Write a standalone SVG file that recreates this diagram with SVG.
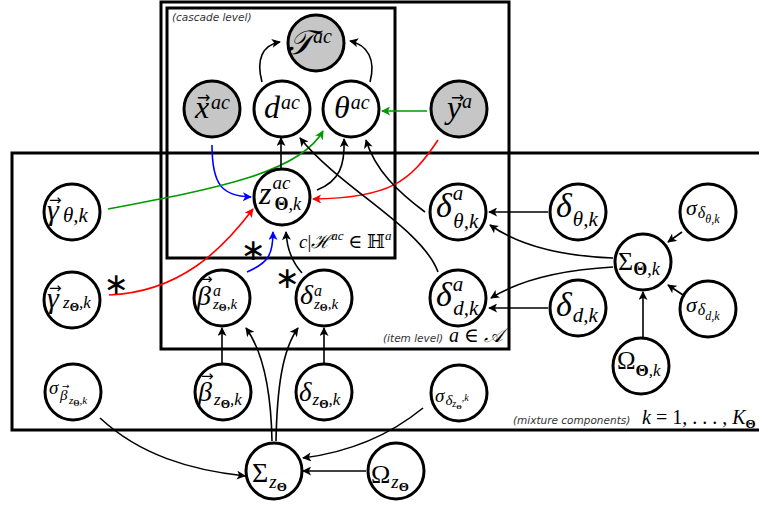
<svg xmlns="http://www.w3.org/2000/svg" width="759" height="508" viewBox="0 0 759 508">
<style>
.box{fill:none;stroke:#000;stroke-width:3}
.n{fill:#fff;stroke:#000;stroke-width:3}
.g{fill:#c6c6c6}
.t{font-family:"Liberation Serif","DejaVu Serif",serif;font-style:italic;fill:#000}
.r{font-style:normal}
.bf{font-weight:bold;font-style:normal}
.v{font-family:"DejaVu Sans",sans-serif;font-style:normal}
.s{font-family:"DejaVu Sans","Liberation Sans",sans-serif;font-style:italic;font-size:10.5px;fill:#333}
.ast{font-family:"DejaVu Sans",sans-serif;font-size:30px;text-anchor:middle;fill:#000}
.c{fill:none;stroke-width:1.6}
.k{stroke:#000}
.bl{stroke:#0000ff}
.rd{stroke:#ff0000}
.gr{stroke:#009900}
</style>
<defs>
<marker id="ak" viewBox="0 0 10 10" refX="9" refY="5" markerWidth="10" markerHeight="9" orient="auto" markerUnits="userSpaceOnUse"><path d="M0,0 L10,5 L0,10 L2.5,5 z" fill="#000"/></marker>
<marker id="ab" viewBox="0 0 10 10" refX="9" refY="5" markerWidth="10" markerHeight="9" orient="auto" markerUnits="userSpaceOnUse"><path d="M0,0 L10,5 L0,10 L2.5,5 z" fill="#0000ff"/></marker>
<marker id="ar" viewBox="0 0 10 10" refX="9" refY="5" markerWidth="10" markerHeight="9" orient="auto" markerUnits="userSpaceOnUse"><path d="M0,0 L10,5 L0,10 L2.5,5 z" fill="#ff0000"/></marker>
<marker id="ag" viewBox="0 0 10 10" refX="9" refY="5" markerWidth="10" markerHeight="9" orient="auto" markerUnits="userSpaceOnUse"><path d="M0,0 L10,5 L0,10 L2.5,5 z" fill="#009900"/></marker>
</defs>
<rect width="759" height="508" fill="#fff"/>

<g id="plates">
<rect class="box" x="12" y="153" width="760" height="277"/>
<rect class="box" x="161" y="2" width="348" height="347"/>
<rect class="box" x="167" y="8" width="228" height="250"/>
<text class="s" x="172" y="21">(cascade level)</text>
<text class="t" x="299" y="248" font-size="19">c<tspan class="r">|</tspan>ℋ<tspan dy="-8" font-size="13">ac</tspan><tspan dy="8" class="r"> ∈ ℍ</tspan><tspan dy="-8" font-size="13">a</tspan></text>
<text class="s" x="383" y="342">(item level)</text>
<text class="t" x="449" y="342" font-size="20">a <tspan class="r">∈</tspan> 𝒜</text>
<text class="s" x="513" y="424">(mixture components)</text>
<text class="t" x="642" y="424" font-size="20">k <tspan class="r">= 1, . . . ,</tspan> K<tspan class="bf" font-size="13" dy="4">Θ</tspan></text>
<text class="ast" x="116" y="294">∗</text>
<text class="ast" x="253" y="260">∗</text>
<text class="ast" x="287" y="288">∗</text>
</g>

<g id="connectors">
<path class="c k" d="M262,82 C256,60 262,45 280,42" marker-end="url(#ak)"/>
<path class="c k" d="M370,82 C376,60 368,45 350,41" marker-end="url(#ak)"/>
<path class="c gr" d="M427,111 L382,111" marker-end="url(#ag)"/>
<path class="c bl" d="M212,145 C212,185 222,196 251,197" marker-end="url(#ab)"/>
<path class="c gr" d="M108,209 C220,188 300,172 323,131" marker-end="url(#ag)"/>
<path class="c rd" d="M109,295 C180,292 222,250 253,209" marker-end="url(#ar)"/>
<path class="c rd" d="M438,140 C410,182 390,198 313,199" marker-end="url(#ar)"/>
<path class="c bl" d="M247,272 C268,263 273,255 273,232" marker-end="url(#ab)"/>
<path class="c k" d="M302,273 C292,262 287,250 286,232" marker-end="url(#ak)"/>
<path class="c k" d="M281,168 L281,138" marker-end="url(#ak)"/>
<path class="c k" d="M317,190 C340,181 345,165 344,139" marker-end="url(#ak)"/>
<path class="c k" d="M425,212 C398,192 375,170 366,140" marker-end="url(#ak)"/>
<path class="c k" d="M438,272 C422,228 340,188 300,138" marker-end="url(#ak)"/>
<path class="c k" d="M548,212 L489,212" marker-end="url(#ak)"/>
<path class="c k" d="M548,308 L489,308" marker-end="url(#ak)"/>
<path class="c k" d="M613,258 C560,256 520,246 490,225" marker-end="url(#ak)"/>
<path class="c k" d="M613,267 C560,270 520,280 491,298" marker-end="url(#ak)"/>
<path class="c k" d="M682,232 L668,242" marker-end="url(#ak)"/>
<path class="c k" d="M683,295 L668,285" marker-end="url(#ak)"/>
<path class="c k" d="M643,338 L643,292" marker-end="url(#ak)"/>
<path class="c k" d="M222,364 L222,328" marker-end="url(#ak)"/>
<path class="c k" d="M324,364 L324,328" marker-end="url(#ak)"/>
<path class="c k" d="M272,441 C271,390 262,350 246,328" marker-end="url(#ak)"/>
<path class="c k" d="M276,441 C277,390 282,350 298,328" marker-end="url(#ak)"/>
<path class="c k" d="M100,418 C140,455 190,470 245,476" marker-end="url(#ak)"/>
<path class="c k" d="M423,408 C390,435 350,452 303,458" marker-end="url(#ak)"/>
<path class="c k" d="M366,471 L303,471" marker-end="url(#ak)"/>
</g>

<g id="T_ac"><circle class="n g" cx="316" cy="43" r="28"/><text class="t" x="287" y="54"><tspan font-size="34">𝒯</tspan><tspan font-size="20" dy="-11">ac</tspan></text></g>
<g id="x_ac"><circle class="n g" cx="212" cy="109" r="28"/><text class="t"><tspan x="195" y="118" font-size="32">x</tspan><tspan class="v" x="197" y="103" font-size="16">→</tspan><tspan x="211" y="109" font-size="20">ac</tspan></text></g>
<g id="d_ac"><circle class="n" cx="282" cy="109" r="28"/><text class="t" x="264" y="118"><tspan font-size="32">d</tspan><tspan font-size="20" dx="1" dy="-9">ac</tspan></text></g>
<g id="theta_ac"><circle class="n" cx="351" cy="109" r="28"/><text class="t" x="334" y="118"><tspan font-size="32">θ</tspan><tspan font-size="20" dx="1" dy="-9">ac</tspan></text></g>
<g id="y_a"><circle class="n g" cx="459" cy="109" r="28"/><text class="t"><tspan x="447" y="118" font-size="32">y</tspan><tspan class="v" x="451" y="103" font-size="16">→</tspan><tspan x="462" y="108" font-size="20">a</tspan></text></g>
<g id="z_ac"><circle class="n" cx="282" cy="197" r="28"/><text class="t" x="259" y="204"><tspan font-size="32">z</tspan><tspan font-size="19" dx="1" dy="-15">ac</tspan><tspan class="bf" font-size="18" dx="-16" dy="21">Θ</tspan><tspan font-size="18">,k</tspan></text></g>
<g id="gamma_theta"><circle class="n" cx="72" cy="212" r="28"/><text class="t"><tspan x="47" y="220" font-size="30">γ</tspan><tspan class="v" x="49" y="205" font-size="15">→</tspan><tspan x="63" y="222" font-size="21">θ,k</tspan></text></g>
<g id="gamma_z"><circle class="n" cx="72" cy="300" r="28"/><text class="t"><tspan x="47" y="308" font-size="30">γ</tspan><tspan class="v" x="49" y="293" font-size="15">→</tspan><tspan x="63" y="308" font-size="17">z</tspan><tspan class="bf" font-size="12" dy="3">Θ</tspan><tspan font-size="17" dy="-3">,k</tspan></text></g>
<g id="beta_a_z"><circle class="n" cx="222" cy="298" r="28"/><text class="t"><tspan x="197" y="305" font-size="28">β</tspan><tspan class="v" x="200" y="284" font-size="15">→</tspan><tspan x="213" y="296" font-size="16">a</tspan><tspan x="213" y="309" font-size="15">z</tspan><tspan class="bf" font-size="10" dy="2">Θ</tspan><tspan font-size="15" dy="-2">,k</tspan></text></g>
<g id="delta_a_z"><circle class="n" cx="324" cy="298" r="28"/><text class="t" x="300" y="304"><tspan font-size="28">δ</tspan><tspan font-size="16" dx="1" dy="-8">a</tspan><tspan font-size="15" dx="-8" dy="13">z</tspan><tspan class="bf" font-size="10" dy="2">Θ</tspan><tspan font-size="15" dy="-2">,k</tspan></text></g>
<g id="delta_a_theta"><circle class="n" cx="458" cy="212" r="28"/><text class="t" x="436" y="217"><tspan font-size="34">δ</tspan><tspan font-size="21" dx="1" dy="-17">a</tspan><tspan font-size="21" dx="-10" dy="28">θ,k</tspan></text></g>
<g id="delta_a_d"><circle class="n" cx="458" cy="298" r="28"/><text class="t" x="436" y="306"><tspan font-size="34">δ</tspan><tspan font-size="21" dx="1" dy="-15">a</tspan><tspan font-size="21" dx="-10" dy="24">d,k</tspan></text></g>
<g id="delta_theta"><circle class="n" cx="578" cy="212" r="28"/><text class="t" x="556" y="217"><tspan font-size="34">δ</tspan><tspan font-size="21" dx="1" dy="9">θ,k</tspan></text></g>
<g id="delta_d"><circle class="n" cx="578" cy="308" r="28"/><text class="t" x="556" y="316"><tspan font-size="34">δ</tspan><tspan font-size="21" dx="1" dy="6">d,k</tspan></text></g>
<g id="Sigma_theta"><circle class="n" cx="643" cy="262" r="28"/><text class="t" x="618" y="270"><tspan class="r" font-size="26">Σ</tspan><tspan class="bf" font-size="18" dy="5">Θ</tspan><tspan font-size="18">,k</tspan></text></g>
<g id="sigma_dtheta"><circle class="n" cx="708" cy="212" r="28"/><text class="t" x="686" y="215"><tspan font-size="22">σ</tspan><tspan font-size="16" dx="1" dy="3">δ</tspan><tspan font-size="12" dy="5">θ,k</tspan></text></g>
<g id="sigma_dd"><circle class="n" cx="708" cy="309" r="28"/><text class="t" x="686" y="312"><tspan font-size="22">σ</tspan><tspan font-size="16" dx="1" dy="3">δ</tspan><tspan font-size="12" dy="5">d,k</tspan></text></g>
<g id="Omega_theta"><circle class="n" cx="641" cy="366" r="28"/><text class="t" x="617" y="369"><tspan class="r" font-size="25">Ω</tspan><tspan class="bf" font-size="17" dy="7">Θ</tspan><tspan font-size="17">,k</tspan></text></g>
<g id="sigma_beta"><circle class="n" cx="73" cy="392" r="28"/><text class="t"><tspan x="49" y="394" font-size="19">σ</tspan><tspan x="60" y="400" font-size="15">β</tspan><tspan class="v" x="62" y="389" font-size="9">→</tspan><tspan x="69" y="404" font-size="11">z</tspan><tspan class="bf" font-size="8" dy="2">Θ</tspan><tspan font-size="11" dy="-2">,k</tspan></text></g>
<g id="beta_z"><circle class="n" cx="223" cy="392" r="28"/><text class="t"><tspan x="198" y="401" font-size="28">β</tspan><tspan class="v" x="201" y="381" font-size="15">→</tspan><tspan x="214" y="405" font-size="17">z</tspan><tspan class="bf" font-size="12" dy="3">Θ</tspan><tspan font-size="17" dy="-3">,k</tspan></text></g>
<g id="delta_z"><circle class="n" cx="324" cy="392" r="28"/><text class="t" x="299" y="401"><tspan font-size="27">δ</tspan><tspan font-size="17" dx="1" dy="4">z</tspan><tspan class="bf" font-size="12" dy="3">Θ</tspan><tspan font-size="17" dy="-3">,k</tspan></text></g>
<g id="sigma_dz"><circle class="n" cx="459" cy="393" r="28"/><text class="t" x="435" y="402"><tspan font-size="19">σ</tspan><tspan font-size="15" dx="1" dy="3">δ</tspan><tspan font-size="10" dy="2">z</tspan><tspan class="bf" font-size="7" dy="2">Θ</tspan><tspan font-size="10" dy="-8">,k</tspan></text></g>
<g id="Sigma_z"><circle class="n" cx="274" cy="471" r="28"/><text class="t" x="252" y="482"><tspan class="r" font-size="28">Σ</tspan><tspan font-size="19" dx="1" dy="6">z</tspan><tspan class="bf" font-size="13" dy="3">Θ</tspan></text></g>
<g id="Omega_z"><circle class="n" cx="396" cy="471" r="28"/><text class="t" x="371" y="483"><tspan class="r" font-size="26">Ω</tspan><tspan font-size="19" dx="1" dy="5">z</tspan><tspan class="bf" font-size="13" dy="3">Θ</tspan></text></g>
</svg>
